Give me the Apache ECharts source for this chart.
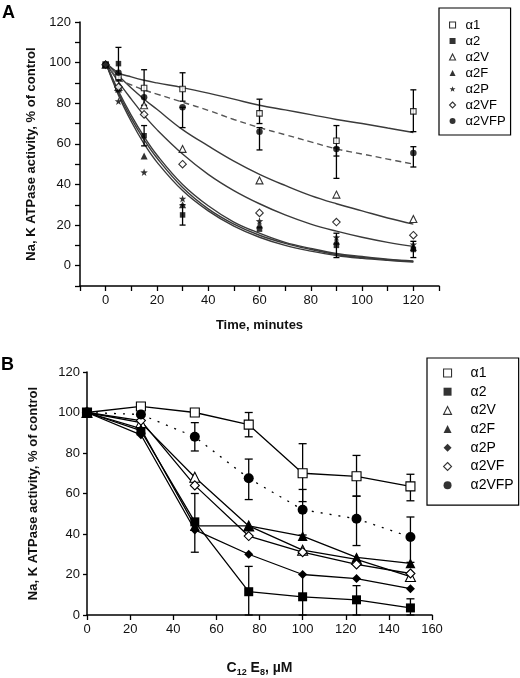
<!DOCTYPE html>
<html>
<head>
<meta charset="utf-8">
<script src="https://cdn.jsdelivr.net/npm/echarts@6/dist/echarts.min.js"></script>
<style>
html,body{margin:0;padding:0;background:#fff;}
#c{width:520px;height:678px;}
</style>
</head>
<body>
<div id="c"></div>
<script>
// ---------- Panel A data (time course) ----------
const timeA = [0, 5, 15, 30, 60, 90, 120];
const a1A    = [99, 93, 87.5, 87, 75, 61.5, 76];
const a2A    = [99, 99.5, 64, 25, 18, 10, 8];
const a2VA   = [99, 88, 79, 57.5, 42, 35, 23];
const a2FA   = [99, 87, 54, 30, 20, 12, 9];
const a2PA   = [99, 81, 46, 33, 22, 14, 10.5];
const a2VFA  = [99, 88, 74.5, 50, 26, 21.5, 15];
const a2VFPA = [99, 95, 83, 78, 66, 57.5, 55.5];

// fitted curves
const fitTimeA = [0, 5, 10, 15, 20, 30, 40, 50, 60, 70, 80, 90, 100, 110, 120];
const fitA1    = [100, 95, 93, 91.3, 90, 87.7, 85, 82, 79, 76.7, 74.4, 72, 70, 67.8, 65.6];
const fitA2VFP = [100, 92, 89, 86.5, 84.5, 80.5, 76.5, 72, 68, 64.5, 61, 57.5, 55, 52.5, 50];
const fitA2V   = [100, 93.5, 87.5, 82, 77, 67, 59, 51.5, 45, 39.5, 34.5, 30.5, 27, 23.5, 20.5];
const fitA2VF  = [100, 90.5, 82, 74, 67, 55, 45, 37, 30.5, 25, 20.5, 17, 14, 11.5, 9.5];
const fitA2    = [100, 85, 72.5, 62, 53, 38.5, 28, 20.5, 15, 11, 8, 5.5, 4, 3, 2];
const fitA2F   = [100, 86, 74, 63.5, 54.5, 40, 29.5, 21.5, 16, 11.5, 8.5, 6, 4.5, 3.2, 2.3];
const fitA2P   = [100, 84, 71, 60, 51, 37, 27, 19.5, 14, 10, 7.2, 5, 3.6, 2.6, 1.8];

// error bars [x, low, high]
const errA = [
  [5, 91, 107.5],
  [15, 79, 96.5], [15, 59, 69],
  [30, 81, 95], [30, 68, 78], [30, 20, 30],
  [60, 70, 82], [60, 57, 68],
  [90, 54, 69], [90, 43, 58], [90, 4, 16],
  [120, 66, 86.6], [120, 48.6, 58.6], [120, 4, 12]
];

// ---------- Panel B data (detergent) ----------
const concB   = [0, 25, 50, 75, 100, 125, 150];
const a1B     = [100, 103, 100, 94, 70, 68.5, 63.5];
const a2B     = [100, 91, 46, 11.5, 9, 7.5, 3.5];
const a2VB    = [100, 95, 68, 44, 32, 27.5, 19];
const a2FB    = [100, 92, 44, 44, 39, 28.5, 25.5];
const a2PB    = [100, 89, 42, 30, 20, 18, 13];
const a2VFB   = [100, 96, 64, 39, 31, 25, 20.5];
const a2VFPB  = [100, 99, 88, 67.5, 52, 47.5, 38.5];

const errB = [
  [50, 81, 95], [50, 31, 60],
  [75, 88, 100], [75, 57, 77], [75, 0, 24],
  [100, 56, 84.6], [100, 39.5, 62], [100, 0, 20],
  [125, 58.7, 78.8], [125, 34.3, 58.7], [125, 0, 14.5],
  [150, 56.4, 69.5], [150, 26, 48.4], [150, 0, 8]
];

const namesA = ['α1', 'α2', 'α2V', 'α2F', 'α2P', 'α2VF', 'α2VFP'];

// ---------- styling ----------
const STAR = 'path://M0,-10 L2.35,-3.24 L9.51,-3.09 L3.8,1.24 L5.88,8.09 L0,4 L-5.88,8.09 L-3.8,1.24 L-9.51,-3.09 L-2.35,-3.24 Z';
const OPEN = {color: '#fff', borderColor: '#000', borderWidth: 1.1};
const FILL = {color: '#000', borderColor: '#000', borderWidth: 0};
const FONT = 'Liberation Sans, Arial, sans-serif';

function pairs(xs, ys) { return xs.map((x, i) => [x, ys[i]]); }

function errRender(capW) {
  return function (params, api) {
    const x = api.value(0), lo = api.value(1), hi = api.value(2);
    const p1 = api.coord([x, lo]), p2 = api.coord([x, hi]);
    const s = {stroke: '#000', lineWidth: 1.3};
    return {type: 'group', children: [
      {type: 'line', shape: {x1: p1[0], y1: p1[1], x2: p2[0], y2: p2[1]}, style: s},
      {type: 'line', shape: {x1: p1[0] - capW, y1: p1[1], x2: p1[0] + capW, y2: p1[1]}, style: s},
      {type: 'line', shape: {x1: p2[0] - capW, y1: p2[1], x2: p2[0] + capW, y2: p2[1]}, style: s}
    ]};
  };
}

const markA = [
  {sym: 'rect', size: 5.5, st: OPEN},
  {sym: 'rect', size: 5.5, st: FILL},
  {sym: 'triangle', size: 7, st: OPEN},
  {sym: 'triangle', size: 7, st: FILL},
  {sym: STAR, size: 7.5, st: FILL},
  {sym: 'diamond', size: 7.5, st: OPEN},
  {sym: 'circle', size: 6.5, st: FILL}
];
const markB = [
  {sym: 'rect', size: 9, st: OPEN},
  {sym: 'rect', size: 9, st: FILL},
  {sym: 'triangle', size: 10, st: OPEN},
  {sym: 'triangle', size: 10, st: FILL},
  {sym: 'diamond', size: 9, st: FILL},
  {sym: 'diamond', size: 9, st: OPEN},
  {sym: 'circle', size: 10, st: FILL}
];

const valsA = [a1A, a2A, a2VA, a2FA, a2PA, a2VFA, a2VFPA];
const valsB = [a1B, a2B, a2VB, a2FB, a2PB, a2VFB, a2VFPB];
const fitsA = [fitA1, fitA2, fitA2V, fitA2F, fitA2P, fitA2VF, fitA2VFP];

const series = [];
// Panel A fit curves
fitsA.forEach((f, i) => {
  const dashed = i === 6;
  series.push({
    type: 'line', xAxisIndex: 0, yAxisIndex: 0, name: 'fit' + i,
    data: pairs(fitTimeA, f), smooth: 0.4, showSymbol: false, silent: true,
    lineStyle: {color: dashed ? '#555' : '#3a3a3a', width: 1.4, type: dashed ? [6, 4] : 'solid'},
    z: 2
  });
});
series.push({
  type: 'custom', xAxisIndex: 0, yAxisIndex: 0, renderItem: errRender(3),
  data: errA, encode: {x: 0, y: [1, 2]}, z: 3, silent: true
});
valsA.forEach((v, i) => {
  series.push({
    type: 'scatter', xAxisIndex: 0, yAxisIndex: 0, name: namesA[i],
    data: pairs(timeA, v), symbol: markA[i].sym, symbolSize: markA[i].size,
    itemStyle: markA[i].st, z: 5
  });
});
// Panel B
series.push({
  type: 'custom', xAxisIndex: 1, yAxisIndex: 1, renderItem: errRender(4),
  data: errB, encode: {x: 0, y: [1, 2]}, z: 3, silent: true
});
valsB.forEach((v, i) => {
  const dotted = i === 6;
  series.push({
    type: 'line', xAxisIndex: 1, yAxisIndex: 1, name: namesA[i],
    data: pairs(concB, v), symbol: markB[i].sym, symbolSize: markB[i].size,
    showSymbol: true, showAllSymbol: true,
    itemStyle: markB[i].st,
    lineStyle: {color: '#000', width: 1.3, type: dotted ? [2, 7] : 'solid'},
    z: 4
  });
});

function legendItems(marks) {
  return namesA.map((n, i) => ({name: n, icon: marks[i].sym, itemStyle: marks[i].st}));
}

const axisLine = {show: true, onZero: false, lineStyle: {color: '#000', width: 1.5}};
const tickLbl = {color: '#111', fontSize: 13, fontFamily: FONT};
const titleStyle = {color: '#111', fontSize: 13, fontWeight: 'bold', fontFamily: FONT};
const lblA = v => (v >= 0 && v <= 120 && v % 20 === 0) ? String(v) : '';

const option = {
  backgroundColor: '#fff',
  animation: false,
  grid: [
    {left: 80, right: 81, top: 22, bottom: 392},
    {left: 87, right: 88, top: 372, bottom: 61}
  ],
  xAxis: [
    {
      type: 'value', gridIndex: 0, min: -10, max: 130, interval: 10,
      axisLine: axisLine, splitLine: {show: false},
      axisTick: {show: true, length: 5, lineStyle: {color: '#000', width: 1.3}},
      axisLabel: Object.assign({margin: 8, formatter: lblA, showMinLabel: true, showMaxLabel: true}, tickLbl),
      name: 'Time, minutes', nameLocation: 'middle', nameGap: 33, nameTextStyle: titleStyle
    },
    {
      type: 'value', gridIndex: 1, min: 0, max: 160, interval: 20,
      axisLine: axisLine, splitLine: {show: false},
      axisTick: {show: true, length: 5, lineStyle: {color: '#000', width: 1.3}},
      axisLabel: Object.assign({margin: 8}, tickLbl),
      name: '{b|C}{s|12}{b| E}{s|8}{b|, µM}', nameLocation: 'middle', nameGap: 44,
      nameTextStyle: {
        rich: {
          b: {fontSize: 14, fontWeight: 'bold', fontFamily: FONT, color: '#111', lineHeight: 18, verticalAlign: 'middle'},
          s: {fontSize: 9, fontWeight: 'bold', fontFamily: FONT, color: '#111', lineHeight: 18, verticalAlign: 'bottom', padding: [6, 0, 0, 0]}
        }
      }
    }
  ],
  yAxis: [
    {
      type: 'value', gridIndex: 0, min: -10, max: 120, interval: 10,
      axisLine: axisLine, splitLine: {show: false},
      axisTick: {show: true, length: 5, lineStyle: {color: '#000', width: 1.3}},
      axisLabel: Object.assign({margin: 9, formatter: lblA}, tickLbl),
      name: 'Na, K ATPase activity, % of control', nameLocation: 'middle', nameGap: 42,
      nameTextStyle: titleStyle
    },
    {
      type: 'value', gridIndex: 1, min: 0, max: 120, interval: 20,
      axisLine: axisLine, splitLine: {show: false},
      axisTick: {show: true, length: 4, lineStyle: {color: '#000', width: 1.3}},
      axisLabel: Object.assign({margin: 7}, tickLbl),
      name: 'Na, K ATPase activity, % of control', nameLocation: 'middle', nameGap: 47,
      nameTextStyle: titleStyle
    }
  ],
  legend: [
    {
      orient: 'vertical', left: 439, top: 8,
      padding: [9, 5, 6, 10], itemGap: 0, itemWidth: 6, itemHeight: 6,
      borderColor: '#000', borderWidth: 1.2, selectedMode: false,
      textStyle: {fontSize: 13, fontFamily: FONT, color: '#000', lineHeight: 16, padding: [0, 0, 0, 5]},
      data: legendItems(markA)
    },
    {
      orient: 'vertical', left: 427, top: 358,
      padding: [7, 5, 12, 16], itemGap: 2.7, itemWidth: 8, itemHeight: 8,
      borderColor: '#000', borderWidth: 1.2, selectedMode: false,
      textStyle: {fontSize: 14, fontFamily: FONT, color: '#000', lineHeight: 16, padding: [0, 0, 0, 14]},
      data: legendItems(markB)
    }
  ],
  graphic: [
    {type: 'text', left: 2, top: 4, style: {text: 'A', fontSize: 18, fontWeight: 'bold', fontFamily: FONT, fill: '#000'}},
    {type: 'text', left: 1, top: 356, style: {text: 'B', fontSize: 18, fontWeight: 'bold', fontFamily: FONT, fill: '#000'}}
  ],
  series: series
};

const chart = echarts.init(document.getElementById('c'), null, {renderer: 'canvas'});
chart.setOption(option);
</script>
</body>
</html>
